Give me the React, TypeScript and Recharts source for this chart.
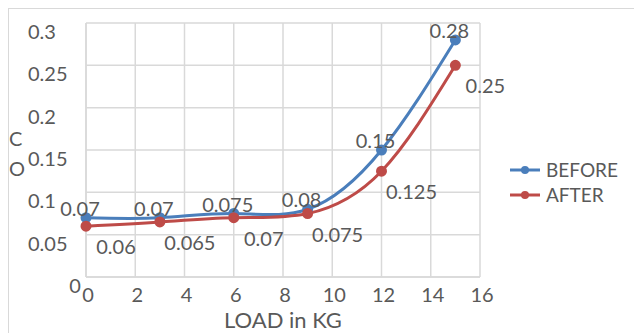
import React from "react";
import { LineChart, Line, XAxis, YAxis, CartesianGrid, LabelList, Label } from "recharts";

const loads = [0, 3, 6, 9, 12, 15];
const before = [0.07, 0.07, 0.075, 0.08, 0.15, 0.28];
const after = [0.06, 0.065, 0.07, 0.075, 0.125, 0.25];
const xTicks = [0, 2, 4, 6, 8, 10, 12, 14, 16];
const yTicks = [0, 0.05, 0.1, 0.15, 0.2, 0.25, 0.3];

const data = loads.map((load, i) => ({ load, before: before[i], after: after[i] }));

const FONT = "Lato, 'Open Sans', sans-serif";
const TEXT = "#595959";
const BLUE = "#4a7ebb";
const RED = "#be4b48";

// y tick labels sit a bit below their gridline, like the original
const YTick = (props: any) => {
  const { x, y, payload } = props;
  const zero = payload.value === 0;
  return (
    <text x={zero ? x - 3 : x - 50} y={y + 16} textAnchor={zero ? "middle" : "start"} fill={TEXT} fontSize={20} fontFamily={FONT}>
      {String(payload.value)}
    </text>
  );
};

const XTick = (props: any) => {
  const { x, y, payload } = props;
  return (
    <text x={x + 2} y={y + 17} textAnchor="middle" fill={TEXT} fontSize={20} fontFamily={FONT}>
      {payload.value}
    </text>
  );
};

const makeLabel = (dx: number, dy: number) => (props: any) => {
  const { x, y, value } = props;
  return (
    <text x={x + dx} y={y + dy} textAnchor="middle" dominantBaseline="central" fill={TEXT} fontSize={20} fontFamily={FONT}>
      {value}
    </text>
  );
};

const series = [
  { name: "BEFORE", color: BLUE },
  { name: "AFTER", color: RED },
];

export default function App() {
  return (
    <div style={{ width: 632, height: 326, border: "1px solid #d9d9d9", boxSizing: "border-box", position: "relative", background: "#fff" }}>
      <LineChart width={630} height={324} data={data} margin={{ top: 14, right: 159, bottom: 26, left: 17 }}>
        <CartesianGrid stroke="#d9d9d9" strokeWidth={1.5} />
        <XAxis
          dataKey="load"
          type="number"
          domain={[0, 16]}
          ticks={xTicks}
          tick={<XTick />}
          tickLine={false}
          axisLine={{ stroke: "#d9d9d9", strokeWidth: 1.5 }}
          height={30}
        >
          <Label value="LOAD in KG" position="bottom" offset={5} fill={TEXT} fontSize={22} fontFamily={FONT} />
        </XAxis>
        <YAxis
          type="number"
          domain={[0, 0.3]}
          ticks={yTicks}
          tick={<YTick />}
          tickLine={false}
          axisLine={{ stroke: "#d9d9d9", strokeWidth: 1.5 }}
          width={60}
          interval={0}
        />
        <Line type="natural" dataKey="before" name="BEFORE" stroke={BLUE} strokeWidth={3} dot={{ r: 4, fill: BLUE, stroke: BLUE }} isAnimationActive={false}>
          <LabelList dataKey="before" content={makeLabel(-6, -10)} />
        </Line>
        <Line type="natural" dataKey="after" name="AFTER" stroke={RED} strokeWidth={3} dot={{ r: 4, fill: RED, stroke: RED }} isAnimationActive={false}>
          <LabelList dataKey="after" content={makeLabel(30, 20)} />
        </Line>
      </LineChart>
      <div style={{ position: "absolute", left: 0, top: 114, fontFamily: FONT, fontSize: 20, color: TEXT, lineHeight: "30px" }}>
        <div>C</div>
        <div>O</div>
      </div>
      <div style={{ position: "absolute", left: 500, top: 148, fontFamily: FONT, fontSize: 19, color: TEXT, lineHeight: "25px" }}>
        {series.map((s) => (
          <div key={s.name} style={{ display: "flex", alignItems: "center" }}>
            <svg width={34} height={12} style={{ marginRight: 3 }}>
              <line x1={1} y1={6} x2={31} y2={6} stroke={s.color} strokeWidth={3} />
              <circle cx={16} cy={6} r={4} fill={s.color} />
            </svg>
            <span>{s.name}</span>
          </div>
        ))}
      </div>
    </div>
  );
}
